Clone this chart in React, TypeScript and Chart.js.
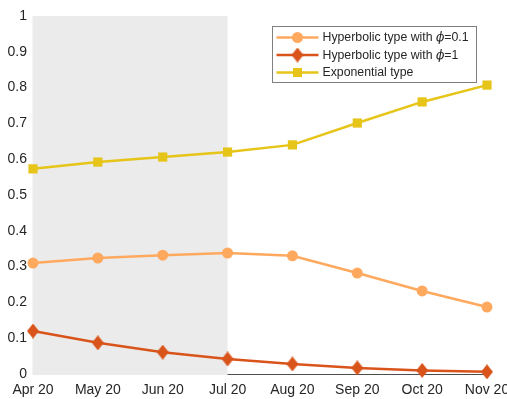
import React, { useEffect, useRef } from "react";
import { Chart, registerables } from "chart.js";

Chart.register(...registerables);

const months = ["Apr 20", "May 20", "Jun 20", "Jul 20", "Aug 20", "Sep 20", "Oct 20", "Nov 20"];
const hyperbolic01 = [0.31, 0.324, 0.332, 0.338, 0.33, 0.282, 0.232, 0.187];
const hyperbolic1 = [0.12, 0.087, 0.061, 0.042, 0.028, 0.017, 0.01, 0.006];
const exponential = [0.573, 0.592, 0.606, 0.62, 0.64, 0.701, 0.76, 0.807];
const shadedUntil = "Jul 20";

const ORANGE = "#FFA95E";
const RED = "#D9541A";
const YELLOW = "#E6C418";
const TEXT = "#262626";
const FONT = '"Liberation Sans", Arial, sans-serif';

function makeDiamond(color: string) {
  const c = document.createElement("canvas");
  c.width = 12;
  c.height = 15;
  const g = c.getContext("2d")!;
  g.fillStyle = color;
  g.beginPath();
  g.moveTo(6, 0);
  g.lineTo(12, 7.5);
  g.lineTo(6, 15);
  g.lineTo(0, 7.5);
  g.closePath();
  g.fill();
  return c;
}

export default function App() {
  const ref = useRef<HTMLCanvasElement>(null);
  useEffect(() => {
    const diamond = makeDiamond(RED);
    const shade = {
      id: "shade",
      beforeDatasetsDraw(chart: any) {
        const { ctx, chartArea } = chart;
        const x = chart.scales.x;
        const x0 = chartArea.left - 0.5;
        const x1 = x.getPixelForValue(months.indexOf(shadedUntil));
        ctx.save();
        ctx.fillStyle = "#EBEBEB";
        ctx.fillRect(x0, chartArea.top, x1 - x0, chartArea.bottom - chartArea.top + 1);
        ctx.restore();
      },
    };
    const items = [
      { pre: "Hyperbolic type with ", phi: true, post: "=0.1", color: ORANGE, marker: "circle" },
      { pre: "Hyperbolic type with ", phi: true, post: "=1", color: RED, marker: "diamond" },
      { pre: "Exponential type", phi: false, post: "", color: YELLOW, marker: "square" },
    ];
    const legend = {
      id: "customLegend",
      afterDraw(chart: any) {
        const { ctx, chartArea } = chart;
        ctx.save();
        const right = chartArea.right - 10.5;
        const top = chartArea.top + 10.5;
        const left = 272.5;
        const height = 56;
        ctx.fillStyle = "#FFFFFF";
        ctx.fillRect(left, top, right - left, height);
        ctx.strokeStyle = "#7F7F7F";
        ctx.lineWidth = 1;
        ctx.strokeRect(left, top, right - left, height);
        const rowH = 17.5;
        const fs = 12.3;
        items.forEach((it, i) => {
          const y = top + 11 + i * rowH;
          ctx.strokeStyle = it.color;
          ctx.lineWidth = 2.5;
          ctx.beginPath();
          ctx.moveTo(left + 4, y);
          ctx.lineTo(left + 46, y);
          ctx.stroke();
          const mx = left + 25;
          ctx.fillStyle = it.color;
          if (it.marker === "circle") {
            ctx.beginPath();
            ctx.arc(mx, y, 5.5, 0, Math.PI * 2);
            ctx.fill();
          } else if (it.marker === "diamond") {
            ctx.drawImage(diamond, mx - 6, y - 7.5);
          } else {
            ctx.fillRect(mx - 4.5, y - 4.5, 9, 9);
          }
          ctx.fillStyle = TEXT;
          ctx.textBaseline = "middle";
          ctx.textAlign = "left";
          let tx = left + 50;
          ctx.font = `${fs}px ${FONT}`;
          ctx.fillText(it.pre, tx, y + 0.5);
          tx += ctx.measureText(it.pre).width;
          if (it.phi) {
            ctx.font = `italic ${fs}px "DejaVu Serif", serif`;
            ctx.fillText("\u03D5", tx, y + 0.5);
            tx += ctx.measureText("\u03D5").width;
            ctx.font = `${fs}px ${FONT}`;
            ctx.fillText(it.post, tx, y + 0.5);
          }
        });
        ctx.restore();
      },
    };
    const chart = new Chart(ref.current!, {
      type: "line",
      data: {
        labels: months,
        datasets: [
          {
            label: "Hyperbolic type with phi=0.1",
            data: hyperbolic01,
            borderColor: ORANGE,
            backgroundColor: ORANGE,
            borderWidth: 2.5,
            pointStyle: "circle",
            pointRadius: 5.5,
            pointBorderWidth: 0,
            clip: false,
          },
          {
            label: "Hyperbolic type with phi=1",
            data: hyperbolic1,
            borderColor: RED,
            backgroundColor: RED,
            borderWidth: 2.5,
            pointStyle: diamond as any,
            pointRadius: 6,
            pointBorderWidth: 0,
            clip: false,
          },
          {
            label: "Exponential type",
            data: exponential,
            borderColor: YELLOW,
            backgroundColor: YELLOW,
            borderWidth: 2.5,
            pointStyle: "rect",
            pointRadius: 6.5,
            pointBorderWidth: 0,
            clip: false,
          },
        ],
      },
      options: {
        animation: false,
        responsive: false,
        maintainAspectRatio: false,
        layout: { padding: { left: 0, right: 20, top: 16, bottom: 0 } },
        plugins: { legend: { display: false }, tooltip: { enabled: false } },
        scales: {
          x: {
            type: "category",
            offset: false,
            grid: { display: false, drawTicks: false },
            border: { display: true, color: "#4D4D4D", width: 1 },
            ticks: { color: TEXT, font: { family: FONT, size: 14 }, padding: 8, maxRotation: 0, autoSkip: false },
            afterFit(s: any) {
              s.height = 25;
              s.paddingLeft = 0;
              s.paddingRight = 0;
            },
          },
          y: {
            min: 0,
            max: 1,
            grid: { display: false, drawTicks: false },
            border: { display: false },
            ticks: {
              stepSize: 0.1,
              color: TEXT,
              font: { family: FONT, size: 14 },
              padding: 6,
              callback: (v: any) => String(Math.round(Number(v) * 10) / 10),
            },
            afterFit(s: any) {
              s.width = 33;
              s.paddingTop = 0;
              s.paddingBottom = 0;
            },
          },
        },
      },
      plugins: [shade, legend],
    });
    return () => chart.destroy();
  }, []);
  return (
    <div style={{ position: "fixed", left: 0, top: 0, width: 507, height: 399, background: "#fff" }}>
      <canvas ref={ref} width={507} height={399} style={{ width: 507, height: 399, display: "block" }} />
    </div>
  );
}
